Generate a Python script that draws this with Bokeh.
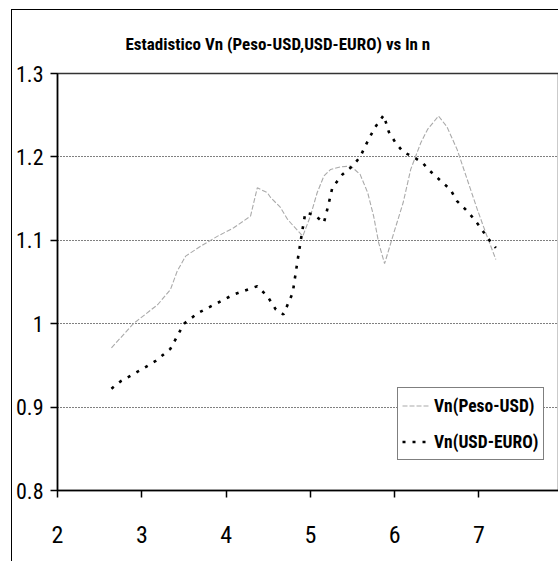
from bokeh.plotting import figure
from bokeh.models import Range1d, FixedTicker, Legend, LegendItem
from bokeh.embed import file_html
from bokeh.resources import INLINE

# ---- data ----
title_text = "Estadistico Vn (Peso-USD,USD-EURO) vs ln n"
series_names = ["Vn(Peso-USD)", "Vn(USD-EURO)"]

peso_x = [2.64, 2.90, 3.19, 3.34, 3.42, 3.52, 3.70, 3.90, 4.09, 4.29, 4.37, 4.49, 4.53, 4.64,
          4.73, 4.80, 4.91, 5.00, 5.08, 5.16, 5.24, 5.36, 5.48, 5.59, 5.68, 5.75, 5.81, 5.88,
          5.99, 6.10, 6.19, 6.31, 6.39, 6.52, 6.62, 6.74, 6.86, 6.98, 7.08, 7.20]
peso_y = [0.971, 1.000, 1.023, 1.041, 1.063, 1.081, 1.093, 1.105, 1.115, 1.129, 1.163, 1.157, 1.151, 1.140,
          1.125, 1.117, 1.105, 1.129, 1.157, 1.177, 1.185, 1.188, 1.189, 1.179, 1.157, 1.129, 1.097, 1.072,
          1.109, 1.145, 1.185, 1.217, 1.233, 1.249, 1.236, 1.209, 1.173, 1.137, 1.109, 1.077]

euro_x = [2.64, 2.75, 2.96, 3.16, 3.34, 3.42, 3.50, 3.67, 3.90, 4.09, 4.37, 4.49, 4.59, 4.68,
          4.79, 4.85, 4.91, 4.94, 5.04, 5.16, 5.21, 5.26, 5.38, 5.50, 5.59, 5.69, 5.77, 5.87,
          5.93, 6.01, 6.10, 6.22, 6.33, 6.42, 6.57, 6.66, 6.74, 6.84, 6.93, 7.02, 7.10, 7.20]
euro_y = [0.922, 0.931, 0.943, 0.955, 0.970, 0.985, 1.000, 1.013, 1.025, 1.035, 1.045, 1.033, 1.017, 1.011,
          1.037, 1.077, 1.115, 1.133, 1.131, 1.121, 1.141, 1.163, 1.179, 1.189, 1.200, 1.221, 1.236, 1.250,
          1.230, 1.217, 1.206, 1.200, 1.193, 1.183, 1.169, 1.161, 1.147, 1.137, 1.127, 1.115, 1.103, 1.091]

x_ticks = [2, 3, 4, 5, 6, 7]
y_ticks = [0.8, 0.9, 1.0, 1.1, 1.2, 1.3]
y_tick_labels = ["0.8", "0.9", "1", "1.1", "1.2", "1.3"]

FONT = "Roboto Condensed"

p = figure(width=547, height=552, output_backend="svg", toolbar_location=None,
           x_range=Range1d(2, 7.955), y_range=Range1d(0.8, 1.3),
           min_border_left=45, min_border_right=0, min_border_top=63, min_border_bottom=72)
p.margin = (9, 0, 0, 11)
p.styles = {"border-left": "1.5px solid #000", "border-top": "1.5px solid #000"}

p.title.text = title_text
p.title.align = "left"
p.title.text_font = FONT
p.title.text_font_size = "17px"
p.title.text_font_style = "bold"
p.title.text_color = "black"
p.title.offset = 68
p.title.standoff = 39

p.background_fill_color = "white"
p.border_fill_color = "white"
p.outline_line_color = "#333333"
p.outline_line_width = 1.5

p.xgrid.visible = False
p.ygrid.ticker = FixedTicker(ticks=y_ticks)
p.ygrid.grid_line_color = "black"
p.ygrid.grid_line_dash = "1 2"
p.ygrid.grid_line_width = 1

p.xaxis.ticker = FixedTicker(ticks=x_ticks)
p.yaxis.ticker = FixedTicker(ticks=y_ticks)
p.yaxis.major_label_overrides = {t: l for t, l in zip(y_ticks, y_tick_labels)}
for ax in (p.xaxis, p.yaxis):
    ax.axis_line_width = 1.5
    ax.axis_line_color = "black"
    ax.major_tick_in = 0
    ax.major_tick_out = 7
    ax.major_tick_line_width = 1.5
    ax.minor_tick_line_color = None
    ax.major_label_text_font = FONT
    ax.major_label_text_color = "black"
p.yaxis.major_label_text_font_size = "22px"
p.xaxis.major_label_text_font_size = "24px"
p.xaxis.major_label_standoff = 28
p.yaxis.major_label_standoff = 7

r1 = p.line(peso_x, peso_y, line_color="#aaaaaa", line_width=1.1, line_dash="5 2")
r2 = p.line(euro_x, euro_y, line_color="black", line_width=2.6, line_dash="3 7")

legend = Legend(items=[LegendItem(label=series_names[0], renderers=[r1]),
                       LegendItem(label=series_names[1], renderers=[r2])],
                location=(340, 30))
legend.border_line_color = "black"
legend.border_line_width = 1.5
legend.background_fill_color = "white"
legend.background_fill_alpha = 1
legend.label_text_font = FONT
legend.label_text_font_size = "17.5px"
legend.label_text_font_style = "bold"
legend.label_text_color = "black"
legend.glyph_width = 28
legend.glyph_height = 27
legend.label_height = 27
legend.spacing = 9
legend.padding = 4
legend.margin = 0
legend.label_standoff = 4
p.add_layout(legend)

open("out.html", "w").write(file_html(p, INLINE))
